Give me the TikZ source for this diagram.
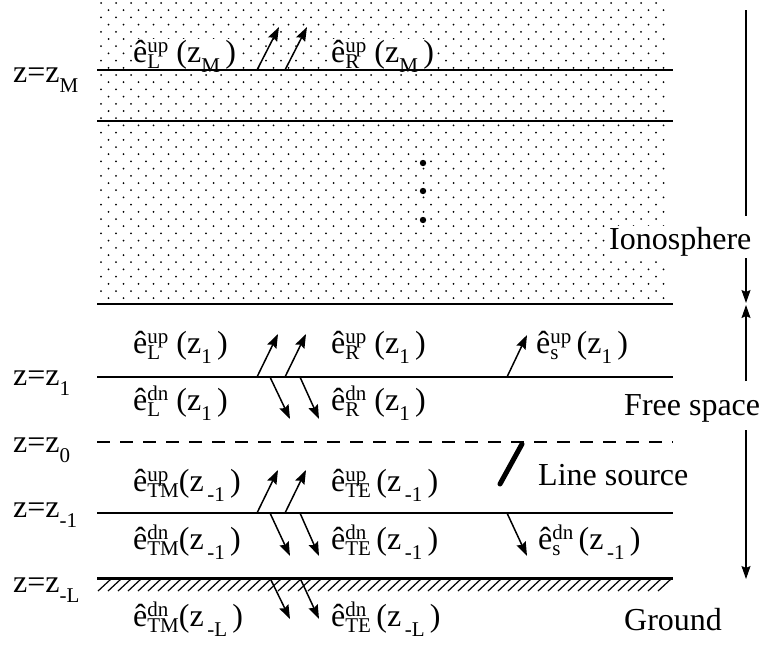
\documentclass[tikz,border=0pt]{standalone}
\usepackage{fontspec}
\setmainfont{Liberation Serif}
\usetikzlibrary{arrows.meta}
\newcommand\ssz{\fontsize{21}{21}\selectfont}
\newcommand\E[2]{\^e\hbox{\ssz\ooalign{\raisebox{.45em}{#1}\cr\raisebox{-.32em}{#2}\cr}}}
\newcommand\Zs[1]{(z\raisebox{-.32em}{\ssz #1}\,)}
\newcommand\zeq[1]{z=z\raisebox{-.32em}{\ssz #1}}
\begin{document}
\begin{tikzpicture}[x=1pt,y=-1pt,font=\fontsize{32}{38}\selectfont,
  lay/.style={line width=1.6pt},
  wave/.style={line width=1.5pt,-{Stealth[length=14pt,width=10pt,inset=2pt]}},
  lab/.style={anchor=base west,inner sep=1pt},
  wlab/.style={lab,fill=white},
  dim/.style={line width=1.1pt},
  dimarrow/.style={line width=1.1pt,-{Stealth[length=13pt,width=9pt,inset=2pt]}}]
\useasboundingbox (0,0) rectangle (762,653);
% ionosphere dots
\foreach \r in {0,...,41}{
  \pgfmathsetmacro\yy{3+7.2*\r}
  \pgfmathsetmacro\xo{101+7.5*mod(\r,2)}
  \foreach \c in {0,...,37}{
    \fill (\xo+15*\c,\yy) circle (1.0);
  }
}
% vertical ellipsis
\foreach \k/\yy in {1/163,2/191,3/220}{
  \fill (423,\yy) circle (3.2) coordinate (ell\k);
}
% ionosphere labels
\node[wlab] (eLM) at (132,62) {\E{up}{L}\ \Zs{M}};
\node[wlab] (eRM) at (330,62) {\E{up}{R}\ \Zs{M}};
\node[wlab] (iono) at (608,249) {Ionosphere};
% layer boundaries
\coordinate (zMl) at (97,70);   \coordinate (zMr) at (673,70);
\coordinate (i2l) at (97,121);  \coordinate (i2r) at (673,121);
\coordinate (ibl) at (97,304);  \coordinate (ibr) at (673,304);
\coordinate (z1l) at (97,377);  \coordinate (z1r) at (673,377);
\coordinate (z0l) at (97,442);  \coordinate (z0r) at (673,442);
\coordinate (zm1l) at (97,513); \coordinate (zm1r) at (673,513);
\coordinate (zLl) at (97,578);  \coordinate (zLr) at (673,578);
\draw[lay] (zMl) -- (zMr);
\draw[lay] (i2l) -- (i2r);
\draw[lay] (ibl) -- (ibr);
\draw[lay] (z1l) -- (z1r);
\draw[lay,dash pattern=on 13pt off 10pt] (z0l) -- (z0r);
\draw[lay] (zm1l) -- (zm1r);
\draw[line width=3pt] (zLl) -- (zLr);
% ground hatching
\foreach \i in {0,...,56}{
  \draw[line width=1.2pt] (98+10*\i,591) -- (111+10*\i,579);
}
% left labels
\node[lab] (lM)  at (12,82)  {\zeq{M}};
\node[lab] (l1)  at (12,385) {\zeq{1}};
\node[lab] (l0)  at (12,452) {\zeq{0}};
\node[lab] (lm1) at (12,517) {\zeq{-1}};
\node[lab] (lL)  at (12,592) {\zeq{-L}};
% wave labels
\node[lab] (eL1u) at (132,353) {\E{up}{L}\ \Zs{1}};
\node[lab] (eR1u) at (330,353) {\E{up}{R}\ \Zs{1}};
\node[lab] (es1u) at (535,353) {\E{up}{s}\,\Zs{1}};
\node[lab] (eL1d) at (132,410) {\E{dn}{L}\ \Zs{1}};
\node[lab] (eR1d) at (330,410) {\E{dn}{R}\ \Zs{1}};
\node[lab] (eTMu) at (132,491) {\E{up}{TM}\Zs{\,-1}};
\node[lab] (eTEu) at (330,491) {\E{up}{TE}\,\Zs{\,-1}};
\node[lab] (eTMd) at (132,549) {\E{dn}{TM}\Zs{\,-1}};
\node[lab] (eTEd) at (330,549) {\E{dn}{TE}\,\Zs{\,-1}};
\node[lab] (esd)  at (537,549) {\E{dn}{s}\,\Zs{\,-1}};
\node[lab] (eTML) at (132,626) {\E{dn}{TM}\Zs{\,-L}};
\node[lab] (eTEL) at (330,626) {\E{dn}{TE}\,\Zs{\,-L}};
% region labels
\node[lab] (free) at (623,415) {Free space};
\node[lab] (lsrc) at (537,485) {Line source};
\node[lab] (grnd) at (623,630) {Ground};
% line source
\coordinate (ls1) at (500,484); \coordinate (ls2) at (522,444);
\draw[line width=5pt,line cap=round] (ls1) -- (ls2);
% wave arrows
\foreach \n/\ax/\ay/\bx/\by in {
  a1/257/70/279/27, a2/285/70/307/27,
  b1/257/377/278/334, b2/285/377/306/334, b3/507/377/527/335,
  c1/270/377/290/419, c2/300/377/319/419,
  d1/257/513/278/470, d2/285/513/306/470,
  e1/270/513/290/556, e2/300/513/319/556, e3/507/513/527/556,
  f1/270/578/290/619, f2/300/578/319/619}{
  \coordinate (\n t) at (\ax,\ay);
  \coordinate (\n h) at (\bx,\by);
  \draw[wave] (\n t) -- (\n h);
}
% dimension arrows at right
\coordinate (r0) at (746,10);
\coordinate (r1) at (746,216);
\coordinate (r2) at (746,258);
\coordinate (r3) at (746,303);
\coordinate (r4) at (746,305);
\coordinate (r5) at (746,381);
\coordinate (r6) at (746,430);
\coordinate (r7) at (746,579);
\draw[dim] (r0) -- (r1);
\draw[dimarrow] (r2) -- (r3);
\draw[dimarrow] (r5) -- (r4);
\draw[dimarrow] (r6) -- (r7);
\end{tikzpicture}
\end{document}
